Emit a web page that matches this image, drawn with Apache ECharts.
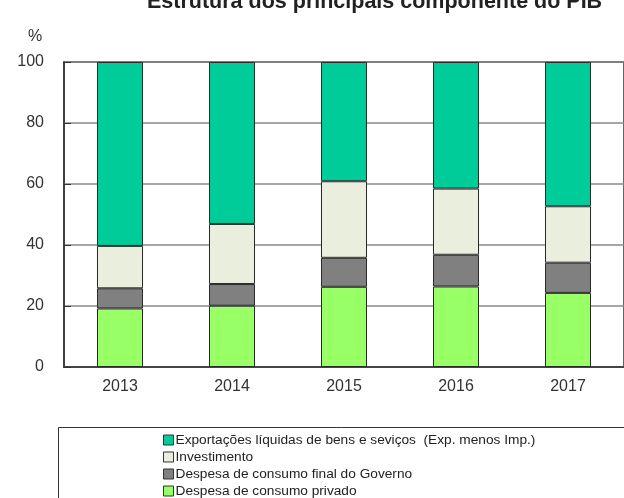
<!DOCTYPE html>
<html><head><meta charset="utf-8">
<script src="https://cdn.jsdelivr.net/npm/echarts@6/dist/echarts.min.js"></script>
<style>html,body{margin:0;padding:0;background:#fff}#c{width:624px;height:498px}</style>
</head><body><div id="c"></div>
<script>
var years = ['2013','2014','2015','2016','2017'];
var privado = [19.2, 20.1, 26.3, 26.4, 24.3];
var governo = [6.6, 7.1, 9.5, 10.4, 9.9];
var investimento = [13.9, 19.7, 25.1, 21.7, 18.5];
var exportacoes = [60.3, 53.1, 39.1, 41.5, 47.3];
var names = ['Exportações líquidas de bens e seviços  (Exp. menos Imp.)','Investimento','Despesa de consumo final do Governo','Despesa de consumo privado'];

var chart = echarts.init(document.getElementById('c'));
function s(name, data, color){
  return {name:name, type:'bar', stack:'t', data:data, barWidth:46,
    itemStyle:{color:color, borderColor:'#2a2a2a', borderWidth:1}};
}
var legendTops = [433, 450, 467, 484];
var legends = names.map(function(n, i){
  return {orient:'vertical', left:163, top:legendTops[i], itemWidth:10, itemHeight:10, itemGap:6,
    icon:'rect', data:[n], padding:0,
    itemStyle:{borderColor:'#333', borderWidth:1},
    textStyle:{fontFamily:'Arial, "Liberation Sans"', fontSize:13.7, color:'#222', padding:[0,0,0,-3]}};
});
chart.setOption({
  animation:false,
  title:{text:'Estrutura dos principais componente do PIB', left:147, top:-9, padding:0,
    textStyle:{fontFamily:'Arial, "Liberation Sans"', fontWeight:'bold', fontSize:21.5, color:'#222'}},
  graphic:[
    {type:'text', left:28, top:29, style:{text:'%', font:'16px Arial, "Liberation Sans"', fill:'#333'}},
    {type:'rect', shape:{x:58.5, y:427.5, width:700, height:200}, style:{fill:'#fff', stroke:'#333', lineWidth:1}, z:-1}
  ],
  grid:{left:64, top:62, width:567, bottom:131, show:true, borderColor:'#333', borderWidth:1.5, containLabel:false},
  xAxis:{type:'category', data:years, axisTick:{show:false},
    axisLine:{lineStyle:{color:'#333', width:1.5}},
    axisLabel:{fontFamily:'Arial, "Liberation Sans"', fontSize:16, color:'#333', margin:12}},
  yAxis:{type:'value', min:0, max:100, interval:20,
    axisLine:{show:true, lineStyle:{color:'#333', width:1.5}},
    axisTick:{show:true, inside:true, length:7, lineStyle:{color:'#333'}},
    splitLine:{lineStyle:{color:'#888', width:1.5}},
    axisLabel:{fontFamily:'Arial, "Liberation Sans"', fontSize:16, color:'#333', margin:20}},
  legend:legends,
  series:[
    s(names[3], privado, '#99FF66'),
    s(names[2], governo, '#808080'),
    s(names[1], investimento, '#EAEEDD'),
    s(names[0], exportacoes, '#00CC99')
  ]
});
</script></body></html>
